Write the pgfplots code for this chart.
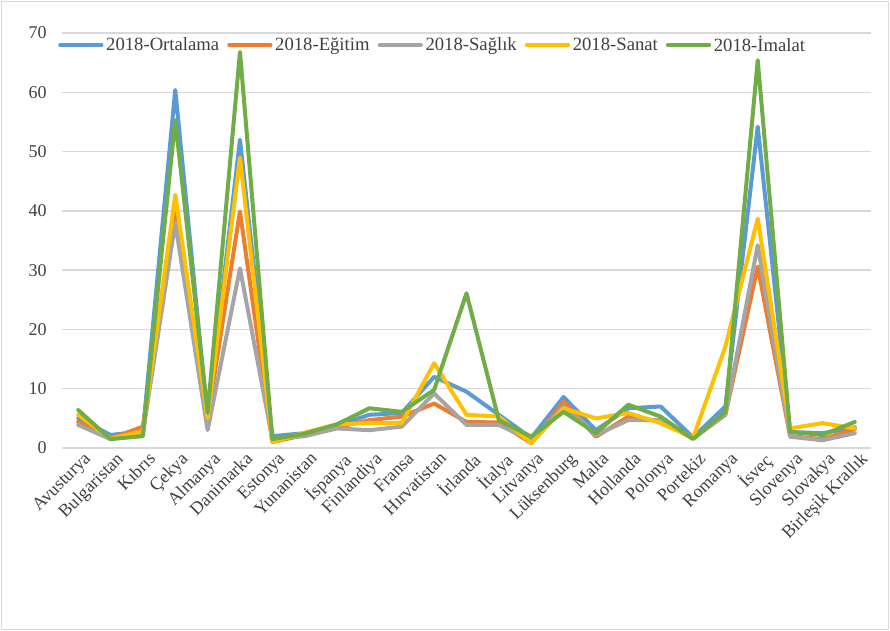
\documentclass[border=0pt]{standalone}
\usepackage{fontspec}
\setmainfont{Liberation Serif}
\usepackage{pgfplots}
\usepackage{pgfplotstable}
\pgfplotsset{compat=1.18}
\definecolor{cBlue}{HTML}{5B9BD5}
\definecolor{cOrange}{HTML}{ED7D31}
\definecolor{cGray}{HTML}{A5A5A5}
\definecolor{cYellow}{HTML}{FFC000}
\definecolor{cGreen}{HTML}{70AD47}
\definecolor{txt}{HTML}{404040}
\definecolor{gridc}{HTML}{D9D9D9}
\pgfplotstableread{
x ort egt sag san ima
0 5.0 4.4 3.9 5.6 6.4
1 2.2 1.6 1.5 1.6 1.5
2 2.8 3.6 2.5 2.8 2.0
3 60.4 40.0 38.0 42.7 55.3
4 5.0 5.0 3.0 5.0 5.9
5 52.0 39.9 30.3 49.0 66.8
6 2.0 1.0 1.5 1.0 1.5
7 2.5 2.2 2.0 2.6 2.4
8 3.8 3.5 3.3 4.0 4.0
9 5.6 4.7 3.0 4.2 6.7
10 5.9 5.3 3.6 4.2 6.1
11 12.0 7.5 9.2 14.3 9.8
12 9.5 4.4 3.9 5.6 26.1
13 5.6 4.3 3.9 5.3 4.7
14 1.7 0.8 1.3 0.8 1.9
15 8.6 7.8 7.0 6.7 6.1
16 3.0 1.9 2.2 5.0 2.5
17 6.7 5.3 4.7 5.9 7.3
18 7.0 4.5 4.7 4.2 5.3
19 1.8 1.6 1.7 1.7 1.5
20 7.0 5.6 5.6 17.1 6.1
21 54.2 30.6 34.2 38.7 65.4
22 2.7 2.0 1.9 3.3 2.7
23 2.5 1.5 1.3 4.2 2.2
24 3.5 3.2 2.5 3.3 4.4
}\datatable
\begin{document}
\begin{tikzpicture}
\useasboundingbox (-46.5pt,-137.25pt) rectangle (621pt,336pt);
\draw[gridc, line width=1.2pt] (-45.5pt,-136.25pt) rectangle (620pt,335pt);
\begin{axis}[
  at={(0,0)}, anchor=south west,
  scale only axis,
  width=606.75pt, height=311.25pt,
  xmin=-0.5, xmax=24.5,
  ymin=0, ymax=70,
  ytick={0,10,...,70},
  xtick={0,...,24},
  xticklabels={Avusturya,Bulgaristan,Kıbrıs,Çekya,Almanya,Danimarka,Estonya,Yunanistan,İspanya,Finlandiya,Fransa,Hırvatistan,İrlanda,İtalya,Litvanya,Lüksenburg,Malta,Hollanda,Polonya,Portekiz,Romanya,İsveç,Slovenya,Slovakya,Birleşik Krallık},
  extra x ticks={-0.5,0.5,...,24.5},
  extra x tick labels={},
  extra x tick style={major tick length=4pt, tick align=outside, xmajorgrids=false, tick style={gridc, line width=0.9pt}},
  x tick style={draw=none},
  major tick length=0pt,
  axis x line*=bottom,
  axis y line*=left,
  x axis line style={gridc, line width=1pt, -},
  y axis line style={draw=none},
  ytick style={draw=none},
  ymajorgrids,
  grid style={gridc, line width=1pt},
  /pgf/number format/assume math mode=true,
  tick label style={font=\fontsize{13.5pt}{15pt}\selectfont, text=txt},
  yticklabel style={xshift=-8pt},
  xticklabel style={rotate=45, anchor=north east, inner sep=1pt, xshift=2pt, yshift=-3pt},
  legend columns=-1,
  legend style={at={(-0.005,0.971)}, anchor=west, draw=none, fill=none,
    font=\fontsize{14pt}{16pt}\selectfont, text=txt, inner sep=0pt,
    /tikz/every even column/.append style={column sep=4pt}},
  legend image code/.code={\draw[#1] (0pt,0pt) -- (31pt,0pt);},
  every axis plot/.append style={line width=3pt, line join=round, line cap=round},
]
\addplot[cBlue] table[x=x, y=ort] {\datatable};
\addlegendentry{2018-Ortalama}
\addplot[cOrange] table[x=x, y=egt] {\datatable};
\addlegendentry{2018-Eğitim}
\addplot[cGray] table[x=x, y=sag] {\datatable};
\addlegendentry{2018-Sağlık}
\addplot[cYellow] table[x=x, y=san] {\datatable};
\addlegendentry{2018-Sanat}
\addplot[cGreen] table[x=x, y=ima] {\datatable};
\addlegendentry{2018-İmalat}
\end{axis}
\end{tikzpicture}
\end{document}
